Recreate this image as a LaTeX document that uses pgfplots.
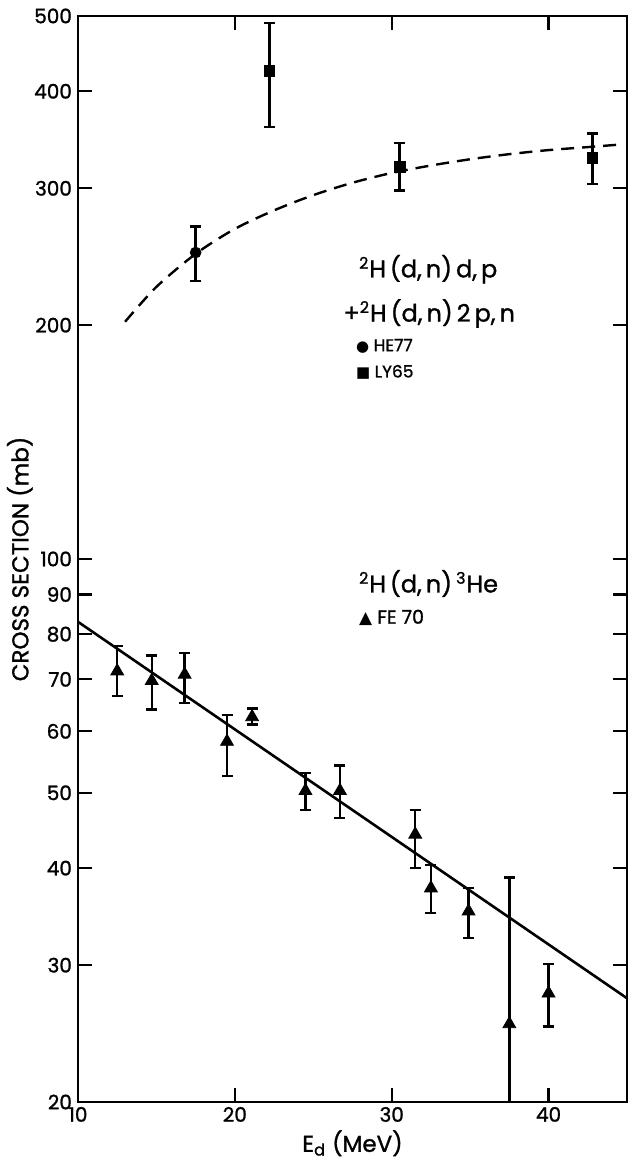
\documentclass[border=0pt]{standalone}
\usepackage{pgfplots}
\pgfplotsset{compat=1.18}
\usepackage{pgfplotstable}
\usepackage{fontspec}
\setmainfont{Poppins}[FakeBold=1.2]
\newfontfamily\sym{DejaVu Sans}

\pgfplotstableread{
x y ep em
12.5 71.7 5.6 5.1
14.7 69.7 5.4 5.7
16.8 71.0 4.7 5.8
19.5 58.2 4.8 5.6
21.1 62.6 1.6 1.4
24.5 50.3 2.7 2.8
26.7 50.3 3.9 3.9
31.5 44.2 3.3 4.2
32.5 37.7 2.7 2.7
34.9 35.2 2.5 2.7
37.5 25.2 13.7 13.7
40.0 27.6 2.5 2.6
}\fesevenzero

\pgfplotstableread{
x y ep em
17.5 248 20 20
}\hesevenseven

\pgfplotstableread{
x y ep em
22.2 425 65 65
30.5 320 23 22
42.8 328 25 24
}\lysixfive

\pgfplotstableread{
x y
13.0 202
15.0 224
17.5 247
20.0 266
22.5 281
25.0 294
27.5 305
30.0 314
32.5 321
35.0 327
37.5 332
40.0 336
42.5 339
44.5 341.5
}\dashcurve

\pgfplotstableread{
x y
10 83.0
45 27.2
}\fitline

\begin{document}
\begin{tikzpicture}
\path[use as bounding box] (0,0) rectangle (315.5pt,580pt);
\begin{axis}[
  at={(39pt,29pt)}, anchor=south west,
  scale only axis, width=274.5pt, height=543pt,
  xmin=10, xmax=45, ymode=log, ymin=20, ymax=500,
  xtick={10,20,30,40}, xticklabels={10,20,30,40},
  ytick={20,30,40,50,60,70,80,90,100,200,300,400,500},
  yticklabels={20,30,40,50,60,70,80,90,100,200,300,400,500},
  yminorticks=false, xminorticks=false,
  tick align=inside, major tick length=7pt,
  tick style={line width=1.1pt, black},
  axis line style={line width=1.3pt},
  tick label style={font=\fontsize{10}{10}\selectfont},
  yticklabel style={xshift=0.5pt},
  xticklabel style={yshift=1pt},
  xlabel={E\textsubscript{d} (MeV)},
  ylabel={CROSS SECTION (mb)},
  label style={font=\fontsize{11.5}{11.5}\selectfont},
  xlabel style={at={(axis description cs:0.5,-0.038)}, anchor=center},
  ylabel style={at={(axis description cs:-0.106,0.5)}, anchor=center},
  error bars/error bar style={line width=1.2pt, black},
  error bars/error mark options={rotate=90, mark size=2.75pt, line width=1.2pt, black},
]
\addplot[black, line width=1.3pt, no marks] table[x=x,y=y] {\fitline};
\addplot[black, line width=1.2pt, no marks, dash pattern=on 6.5pt off 4pt, smooth] table[x=x,y=y] {\dashcurve};
\addplot[only marks, mark=triangle*, mark size=3.7pt, black,
  error bars/.cd, y dir=both, y explicit]
  table[x=x, y=y, y error plus=ep, y error minus=em] {\fesevenzero};
\addplot[only marks, mark=*, mark size=2.7pt, black,
  error bars/.cd, y dir=both, y explicit]
  table[x=x, y=y, y error plus=ep, y error minus=em] {\hesevenseven};
\addplot[only marks, mark=square*, mark size=2.7pt, black,
  error bars/.cd, y dir=both, y explicit]
  table[x=x, y=y, y error plus=ep, y error minus=em] {\lysixfive};

\node[anchor=west, inner sep=0pt, font=\fontsize{12}{12}\selectfont] at (axis cs:27.9,236) {\textsuperscript{2}H\,(d,\,n)\,d,\,p};
\node[anchor=west, inner sep=0pt, font=\fontsize{12}{12}\selectfont] at (axis cs:26.9,207) {+\textsuperscript{2}H\,(d,\,n)\,2\,p,\,n};
\node[anchor=west, inner sep=0pt, font=\fontsize{8.5}{8.5}\selectfont] at (axis cs:27.7,188) {{\sym\fontsize{7.5}{7.5}\selectfont ●}\ HE77};
\node[anchor=west, inner sep=0pt, font=\fontsize{8.5}{8.5}\selectfont] at (axis cs:27.7,174) {{\sym\fontsize{7.5}{7.5}\selectfont ■}\ LY65};
\node[anchor=west, inner sep=0pt, font=\fontsize{12}{12}\selectfont] at (axis cs:27.9,93) {\textsuperscript{2}H\,(d,\,n)\,\textsuperscript{3}He};
\node[anchor=west, inner sep=0pt, font=\fontsize{9.5}{9.5}\selectfont] at (axis cs:27.9,84) {{\sym\fontsize{8.5}{8.5}\selectfont ▲}\ FE 70};
\end{axis}
\end{tikzpicture}
\end{document}
